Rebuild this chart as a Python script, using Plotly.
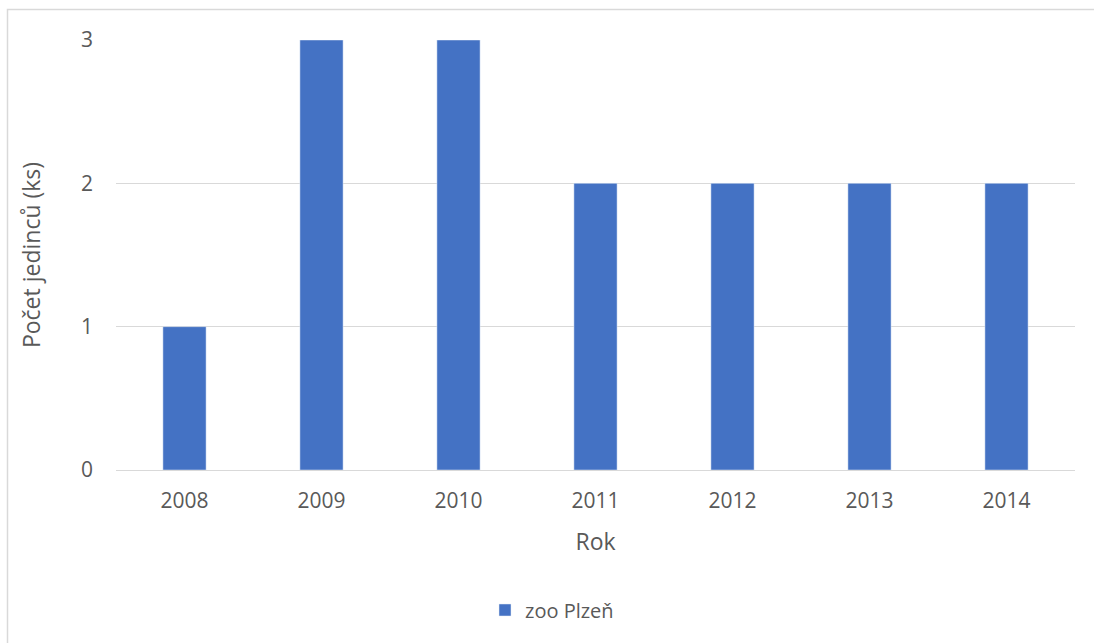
import plotly.graph_objects as go

years = ["2008", "2009", "2010", "2011", "2012", "2013", "2014"]
counts = [1, 3, 3, 2, 2, 2, 2]
series_name = "zoo Plzeň"
y_ticks = [0, 1, 2, 3]

W, H = 1094, 643
L, R, T, B = 116, 19, 40, 173
pw, ph = W - L - R, H - T - B

def px(x):
    return (x - L) / pw

def py(y):
    return (H - B - y) / ph

txt = "#595959"
font = "Open Sans, Liberation Sans, sans-serif"

fig = go.Figure()
fig.add_trace(go.Bar(x=years, y=counts, name=series_name, marker_color="#4472c4",
                     showlegend=True))

fig.update_layout(
    width=W, height=H,
    margin=dict(l=L, r=R, t=T, b=B),
    paper_bgcolor="white", plot_bgcolor="white",
    bargap=0.685,
    font=dict(family=font, color=txt, size=21),
    showlegend=True,
    legend=dict(orientation="h", x=px(552), y=py(610), xanchor="center", yanchor="middle",
                font=dict(size=20, color=txt), itemwidth=30),
    xaxis=dict(title=dict(text="Rok", font=dict(size=23, color=txt), standoff=20),
               showgrid=False, showline=False, ticks="", ticklabelstandoff=16,
               tickfont=dict(size=21, color=txt)),
    yaxis=dict(title=dict(text="Počet jedinců (ks)", font=dict(size=23, color=txt), standoff=33),
               range=[0, 3], tickvals=y_ticks, showgrid=True, gridcolor="#d9d9d9", gridwidth=1.3,
               zeroline=True, zerolinecolor="#d9d9d9", zerolinewidth=1.3,
               showline=False, ticks="", ticklabelstandoff=22,
               tickfont=dict(size=21, color=txt)),
    shapes=[dict(type="rect", xref="paper", yref="paper",
                 x0=px(7.5), y0=py(660), x1=px(1110), y1=py(9.5),
                 line=dict(color="#d9d9d9", width=1.5), fillcolor="rgba(0,0,0,0)", layer="below")],
)

fig.write_html("out.html", config={"displayModeBar": False},
               post_script="document.body.style.margin='0';document.body.style.overflow='hidden';")
